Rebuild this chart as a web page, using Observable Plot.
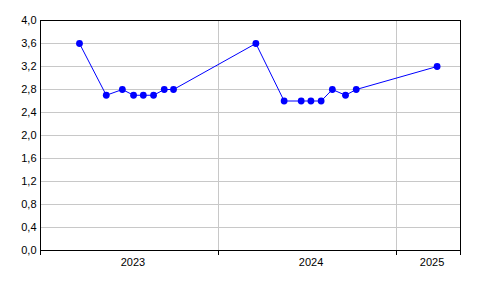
<!DOCTYPE html>
<html>
<head>
<meta charset="utf-8">
<script src="https://cdn.jsdelivr.net/npm/d3@7"></script>
<script src="https://cdn.jsdelivr.net/npm/@observablehq/plot@0.6"></script>
<style>
  html, body { margin: 0; padding: 0; background: #fff; }
  svg { font-family: "Liberation Sans", Arial, sans-serif; }
</style>
</head>
<body>
<div id="chart"></div>
<script>
const dates = ["2023-03-22","2023-05-16","2023-06-18","2023-07-11","2023-07-31","2023-08-21","2023-09-12","2023-10-01",
               "2024-03-18","2024-05-15","2024-06-19","2024-07-09","2024-07-30","2024-08-22","2024-09-18","2024-10-10",
               "2025-03-25"];
const values = [3.6,2.7,2.8,2.7,2.7,2.7,2.8,2.8,3.6,2.6,2.6,2.6,2.6,2.8,2.7,2.8,3.2];
const yTicks = [0,0.4,0.8,1.2,1.6,2.0,2.4,2.8,3.2,3.6,4.0];
const yearLabels = ["2023","2024","2025"];
const xStart = "2023-01-01";
const xEnd = "2025-05-12";

const data = dates.map((d, i) => ({date: new Date(d), value: values[i]}));
const d0 = new Date(xStart), d1 = new Date(xEnd);
const yearStarts = yearLabels.map(y => new Date(`${y}-01-01`));
const boundaries = [...yearStarts, d1];
const labelData = yearLabels.map((y, i) => {
  const a = Math.max(+yearStarts[i], +d0);
  const b = Math.min(+new Date(`${+y + 1}-01-01`), +d1);
  return {label: y, date: new Date((a + b) / 2)};
});
const innerYears = yearStarts.filter(d => d > d0);
const fmt = v => v.toFixed(1).replace(".", ",");

const chart = Plot.plot({
  width: 496,
  height: 296,
  marginLeft: 40,
  marginTop: 20,
  marginRight: 36,
  marginBottom: 46,
  style: {fontSize: "11px", fontFamily: "'Liberation Sans', Arial, sans-serif", background: "#fff", color: "#000"},
  x: {type: "utc", domain: [d0, d1]},
  y: {domain: [0, 4]},
  marks: [
    Plot.ruleY(yTicks.filter(v => v > 0 && v < 4), {stroke: "#c8c8c8", strokeWidth: 1, shapeRendering: "crispEdges"}),
    Plot.ruleX(innerYears, {stroke: "#c8c8c8", strokeWidth: 1, shapeRendering: "crispEdges"}),
    Plot.axisY({ticks: yTicks, tickSize: 0, tickPadding: 4, tickFormat: fmt, label: null, fontSize: 11}),
    Plot.axisX({ticks: boundaries, tickSize: 5, tickFormat: () => "", label: null, stroke: "#000", shapeRendering: "crispEdges"}),
    Plot.text(labelData, {x: "date", y: 0, text: "label", dy: 12, dx: 3.5, fontSize: 11, fill: "#000"}),
    Plot.frame({stroke: "#000", strokeWidth: 1, shapeRendering: "crispEdges"}),
    Plot.line(data, {x: "date", y: "value", stroke: "#0000ff", strokeWidth: 1}),
    Plot.dot(data, {x: "date", y: "value", r: 3.4, fill: "#0000ff", stroke: "none"})
  ]
});
document.getElementById("chart").appendChild(chart);
</script>
</body>
</html>
